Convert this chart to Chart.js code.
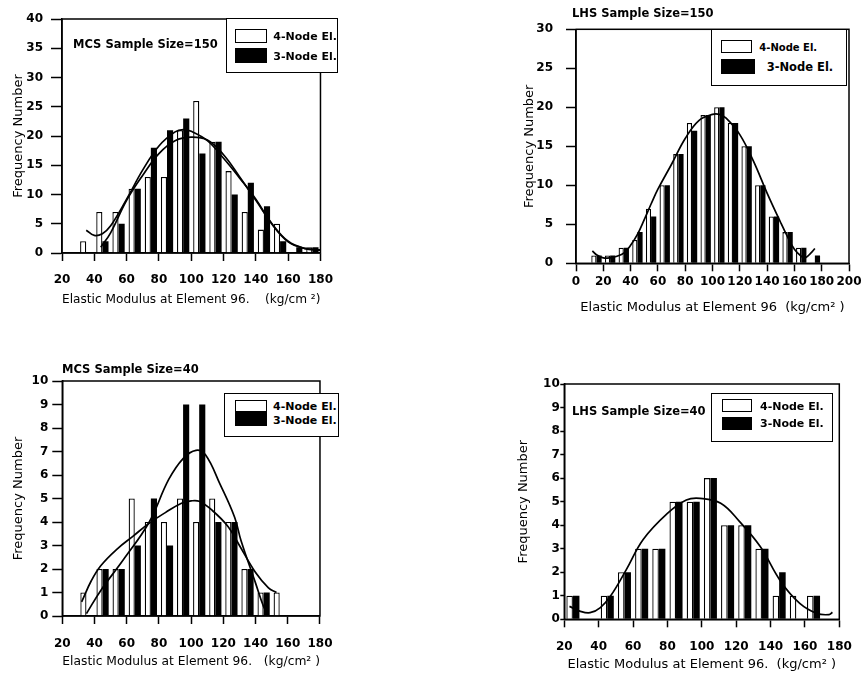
<!DOCTYPE html>
<html><head><meta charset="utf-8">
<script src="https://cdn.jsdelivr.net/npm/chart.js@4.4.0/dist/chart.umd.min.js"></script>
<style>
html,body{margin:0;padding:0;background:#fff;}
body{width:865px;height:680px;position:relative;overflow:hidden;}
canvas{position:absolute;}
.t{position:absolute;font-family:"DejaVu Sans",sans-serif;font-weight:bold;color:#000;white-space:pre;line-height:1;}
.box{position:absolute;border:1.5px solid #000;box-sizing:border-box;background:#fff;}
.sw{position:absolute;box-sizing:border-box;border:1.5px solid #000;}
</style></head><body>
<canvas id="c1" width="345" height="312" style="left:0px;top:0px"></canvas>
<canvas id="c2" width="365" height="320" style="left:500px;top:0px"></canvas>
<canvas id="c3" width="345" height="330" style="left:0px;top:340px"></canvas>
<canvas id="c4" width="365" height="335" style="left:500px;top:340px"></canvas>
<script>
// ---------- DATA ----------
// Panel 1: MCS sample size 150
const bins1  = [35,45,55,65,75,85,95,105,115,125,135,145,155,165,175];
const white1 = [2,7,7,11,13,13,21,26,19,14,7,4,5,0,1];
const black1 = [0,2,5,11,18,21,23,17,19,10,12,8,2,1,1];
const fitA1X = [35,40,45,50,60,70,80,90,95,100,110,120,130,140,150,160,170,180];
const fitA1Y = [3.9,3.0,3.3,4.6,9.2,14.2,18.3,20.7,21.1,20.8,19.2,16.2,12.8,9.2,4.9,1.9,0.8,0.5];
const fitB1X = [44,50,60,70,80,90,100,110,120,130,140,150,160,170,180];
const fitB1Y = [1.0,3.4,9.0,13.3,17.0,19.2,19.8,19.3,16.8,13.0,9.0,5.0,2.0,0.8,0.5];
const xTicks1 = [20,40,60,80,100,120,140,160,180];
const yTicks1 = [0,5,10,15,20,25,30,35,40];

// Panel 2: LHS sample size 150
const bins2  = [15,25,35,45,55,65,75,85,95,105,115,125,135,145,155,165,175];
const white2 = [1,1,2,3,7,10,14,18,19,20,18,15,10,6,4,2,0];
const black2 = [1,1,2,4,6,10,14,17,19,20,18,15,10,6,4,2,1];
const fit2X = [12,15,20,25,30,35,40,45,50,55,60,70,80,90,100,105,110,120,130,140,150,155,160,165,168,172,175];
const fit2Y = [1.6,1.1,0.7,0.7,0.9,1.3,2.3,3.7,5.6,7.6,9.5,12.7,16.0,18.3,19.1,19.1,18.6,16.5,13.1,9.0,5.2,3.4,1.8,0.9,0.7,1.3,1.9];
const xTicks2 = [0,20,40,60,80,100,120,140,160,180,200];
const yTicks2 = [0,5,10,15,20,25,30];

// Panel 3: MCS sample size 40
const bins3  = [35,45,55,65,75,85,95,105,115,125,135,145,155];
const white3 = [1,2,2,5,4,4,5,4,5,4,2,1,1];
const black3 = [0,2,2,3,5,3,9,9,4,4,2,1,0];
const fitA3X = [32,38,44,54,64,74,84,94,100,105,113,123,130,140,148,153];
const fitA3Y = [0.6,1.5,2.15,2.85,3.4,3.95,4.4,4.8,4.9,4.88,4.5,3.8,3.0,1.85,1.2,1.0];
const fitB3X = [35,44,58,74,86,95,103,109,118,127,131,140,145,148];
const fitB3Y = [0.1,1.1,2.4,4.0,5.8,6.7,7.05,6.85,5.6,4.2,3.2,1.4,0.4,0.05];
const xTicks3 = [20,40,60,80,100,120,140,160,180];
const yTicks3 = [0,1,2,3,4,5,6,7,8,9,10];

// Panel 4: LHS sample size 40
const bins4  = [25,35,45,55,65,75,85,95,105,115,125,135,145,155,165];
const white4 = [1,0,1,2,3,3,5,5,6,4,4,3,1,1,1];
const black4 = [1,0,1,2,3,3,5,5,6,4,4,3,2,0,1];
const fit4X = [23,29,35,41,47,56,66,80,91,99,111,122,134,146,157,167,174,176];
const fit4Y = [0.55,0.35,0.28,0.5,1.0,2.1,3.4,4.5,5.07,5.14,4.93,4.15,3.09,1.6,0.68,0.25,0.2,0.3];
const xTicks4 = [20,40,60,80,100,120,140,160,180];
const yTicks4 = [0,1,2,3,4,5,6,7,8,9,10];

const seriesNames = ['4-Node El.','3-Node El.'];
const yTitle = 'Frequency Number';

// ---------- DRAWING ----------
function pts(xs, ys){ return xs.map((x,i)=>({x:x, y:ys[i]})); }

const framePlugin = {
  id:'frame',
  afterDatasetsDraw(chart){
    const {ctx, chartArea:a} = chart;
    ctx.save(); ctx.strokeStyle='#000'; ctx.lineWidth=1.5;
    ctx.strokeRect(a.left, a.top, a.right-a.left, a.bottom-a.top);
    ctx.restore();
  }
};

function build(id, o){
  const ds = [];
  o.curves.forEach(c => ds.push({type:'line', data:pts(c[0],c[1]), borderColor:'#000', borderWidth:1.7,
    pointRadius:0, tension:0.4, fill:false, order:0}));
  ds.push({type:'bar', label:seriesNames[0], data:pts(o.bins,o.white), backgroundColor:'#fff', borderColor:'#000',
    borderWidth:1.3, order:1, categoryPercentage:0.76, barPercentage:1});
  ds.push({type:'bar', label:seriesNames[1], data:pts(o.bins,o.black), backgroundColor:'#000', borderColor:'#000',
    borderWidth:0, order:1, categoryPercentage:0.76, barPercentage:1});
  const tickFont = {family:'DejaVu Sans', weight:'bold', size:12};
  const titleFont = {family:'DejaVu Sans', size:13};
  new Chart(document.getElementById(id), {
    type:'bar',
    data:{datasets:ds},
    options:{
      responsive:false, animation:false, devicePixelRatio:1,
      layout:{padding:o.pad},
      plugins:{legend:{display:false}, tooltip:{enabled:false}},
      scales:{
        x:{type:'linear', min:o.xMin, max:o.xMax, offset:false,
          afterBuildTicks:s=>{ s.ticks = o.xTicks.map(v=>({value:v})); },
          afterFit:s=>{ s.height = o.xH; },
          grid:{display:true, offset:false, drawOnChartArea:false, drawTicks:true, tickLength:8, tickWidth:1.5, tickColor:'#000'},
          border:{display:true, color:'#000', width:1.5},
          ticks:{color:'#000', font:tickFont, padding:o.xPad, autoSkip:false, maxRotation:0, minRotation:0},
          title:{display:true, text:o.xTitle, color:'#000', font:titleFont, padding:{top:0, bottom:o.xTitlePad}}
        },
        y:{type:'linear', min:0, max:o.yMax,
          afterBuildTicks:s=>{ s.ticks = o.yTicks.map(v=>({value:v})); },
          afterFit:s=>{ s.width = o.yW; },
          grid:{display:true, drawOnChartArea:false, drawTicks:true, tickLength:o.yTL, tickWidth:1.5, tickColor:'#000'},
          border:{display:true, color:'#000', width:1.5},
          ticks:{color:'#000', font:tickFont, padding:o.yPad},
          title:{display:true, text:yTitle, color:'#000', font:titleFont, padding:{top:o.yTitlePad, bottom:0}}
        }
      }
    },
    plugins:[framePlugin]
  });
}

build('c1', {bins:bins1, white:white1, black:black1, curves:[[fitA1X,fitA1Y],[fitB1X,fitB1Y]],
  xMin:20, xMax:180, xTicks:xTicks1, yMax:40, yTicks:yTicks1,
  pad:{left:0, top:19, right:11, bottom:0}, yW:62, xH:59, yTL:11, yPad:8, xPad:12, xTitlePad:5, yTitlePad:11,
  xTitle:'Elastic Modulus at Element 96.    (kg/cm \u00B2)'});
build('c2', {bins:bins2, white:white2, black:black2, curves:[[fit2X,fit2Y]],
  xMin:0, xMax:200, xTicks:xTicks2, yMax:30, yTicks:yTicks2,
  pad:{left:0, top:29.3, right:16, bottom:0}, yW:76, xH:56.7, yTL:10, yPad:13, xPad:3, xTitlePad:5, yTitlePad:22,
  xTitle:'Elastic Modulus at Element 96  (kg/cm\u00B2 )'});
build('c3', {bins:bins3, white:white3, black:black3, curves:[[fitA3X,fitA3Y],[fitB3X,fitB3Y]],
  xMin:20, xMax:180, xTicks:xTicks3, yMax:10, yTicks:yTicks3,
  pad:{left:0, top:41, right:10.7, bottom:0}, yW:62.3, xH:54, yTL:10, yPad:4, xPad:12.5, xTitlePad:0.5, yTitlePad:11,
  xTitle:'Elastic Modulus at Element 96.   (kg/cm\u00B2 )'});
build('c4', {bins:bins4, white:white4, black:black4, curves:[[fit4X,fit4Y]],
  xMin:20, xMax:180, xTicks:xTicks4, yMax:10, yTicks:yTicks4,
  pad:{left:0, top:44, right:25.7, bottom:0}, yW:64.3, xH:55.7, yTL:4, yPad:0.5, xPad:12.7, xTitlePad:2.2, yTitlePad:16.2,
  xTitle:'Elastic Modulus at Element 96.  (kg/cm\u00B2 )'});

// ---------- TEXT / LEGENDS (HTML overlays) ----------
function text(str, left, cy, size){
  const d = document.createElement('div'); d.className='t'; d.textContent=str;
  d.style.left = left+'px'; d.style.top = (cy - 0.48*size)+'px'; d.style.fontSize = size+'px';
  document.body.appendChild(d);
}
function rect(cls, l, t, r, b, bg){
  const d = document.createElement('div'); d.className=cls;
  d.style.left=l+'px'; d.style.top=t+'px'; d.style.width=(r-l)+'px'; d.style.height=(b-t)+'px';
  if (bg) d.style.background = bg;
  document.body.appendChild(d);
}
function legend(L){
  rect('box', L.box[0], L.box[1], L.box[2], L.box[3]);
  rect('sw', L.w[0], L.w[1], L.w[2], L.w[3], '#fff');
  rect('sw', L.k[0], L.k[1], L.k[2], L.k[3], '#000');
  text(seriesNames[0], L.t1[0], L.t1[1], L.t1[2]);
  text(seriesNames[1], L.t2[0], L.t2[1], L.t2[2]);
}
text('MCS Sample Size=150', 73, 45, 11.5);
text('LHS Sample Size=150', 572, 14, 11.5);
text('MCS Sample Size=40', 62, 370, 11.5);
text('LHS Sample Size=40', 572, 411.5, 11.5);

legend({box:[226,18,338,73], w:[235,29.3,266.7,43.3], k:[235,48.3,266.7,63.3], t1:[273.3,36.7,11], t2:[273.3,56.7,11]});
legend({box:[710.7,29.3,847.3,86], w:[720.7,40,752.3,53.3], k:[720.7,59.3,755,74], t1:[759.3,48,10], t2:[766.7,68,11.5]});
legend({box:[224,393.3,339,436.7], w:[235,400,266.7,412], k:[235,412,266.7,426], t1:[273,406.7,11], t2:[273,420,11]});
legend({box:[710.7,393.3,833.3,441.7], w:[721.7,399.3,751.7,411.7], k:[721.7,417.3,751.7,430], t1:[760,406.7,11], t2:[760,423.3,11]});
</script>
</body></html>
